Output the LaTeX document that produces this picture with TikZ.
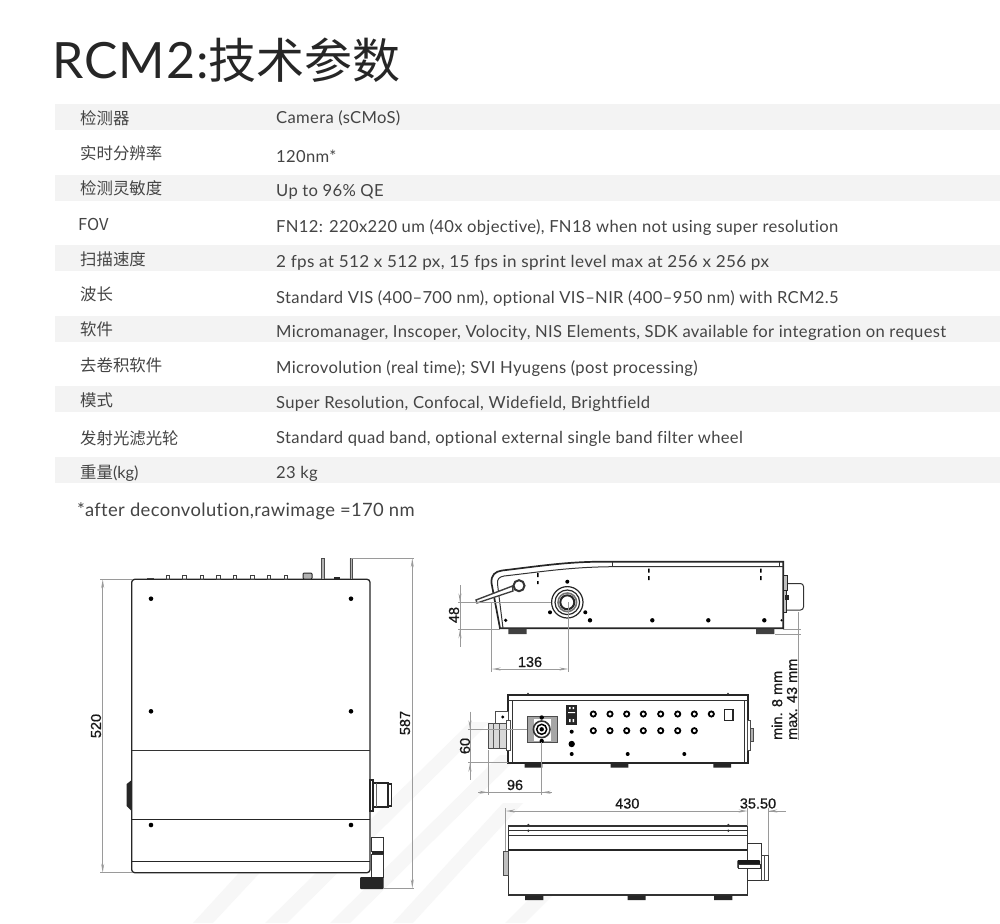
\documentclass[tikz,border=0pt]{standalone}
\usepackage{fontspec}
\usepackage{tikz}
\usetikzlibrary{arrows.meta}
\setmainfont{Lato}[LetterSpace=2,Ligatures=NoCommon]
\newfontfamily\cjk{Noto Sans CJK SC}
\newfontfamily\dimfont{Liberation Sans}[FakeBold=0.6]
\definecolor{bandgray}{HTML}{F3F3F3}
\definecolor{stripegray}{HTML}{F7F7F7}
\definecolor{inkgray}{HTML}{444444}
\definecolor{dimgray}{HTML}{9A9A9A}
\tikzset{
  rowkey/.style={anchor=west,inner sep=0pt,text=inkgray,font=\fontsize{16.4}{16}\selectfont\cjk},
  rowval/.style={anchor=west,inner sep=0pt,text=inkgray,font=\fontsize{16.6}{16}\selectfont},
  dimtext/.style={inner sep=0pt,text=black!90,font=\fontsize{14.5}{14}\selectfont\dimfont},
  dimline/.style={draw=dimgray,line width=0.7pt},
  dimtip/.style={dimline,{Stealth[open,length=9pt,width=3pt]}-},
  dimarrow/.style={dimline,{Stealth[open,length=9pt,width=3pt]}-{Stealth[open,length=9pt,width=3pt]}},
  body/.style={draw=black!85,line width=1.3pt,fill=white}
}
\begin{document}
\begin{tikzpicture}[x=1pt,y=-1pt]
  \useasboundingbox (0,0) rectangle (1000,923);
  \fill[white] (0,0) rectangle (1000,923);

  % Draw watermark stripes
  \fill[stripegray] (193,923) -- (213,923) -- (325,803) -- (303,803) -- cycle;
  \fill[stripegray] (265,923) -- (287,923) -- (490,722) -- (470,722) -- cycle;
  \fill[stripegray] (330,923) -- (350,923) -- (520,755) -- (500,755) -- cycle;
  \fill[stripegray] (393,923) -- (413,923) -- (523,803) -- (503,803) -- cycle;
  \fill[stripegray] (505,923) -- (525,923) -- (600,848) -- (580,848) -- cycle;

  % Draw title
  \node[anchor=west,inner sep=0pt,text=black!85,font=\fontsize{50}{50}\selectfont] (title) at (52,60) {RCM2:{\fontsize{48}{48}\selectfont\cjk 技术参数}};

  % Draw table bands
  \fill[bandgray] (55,104) rectangle (1000,130);
  \fill[bandgray] (55,175) rectangle (1000,201);
  \fill[bandgray] (55,245) rectangle (1000,271);
  \fill[bandgray] (55,316) rectangle (1000,342);
  \fill[bandgray] (55,386) rectangle (1000,412);
  \fill[bandgray] (55,457) rectangle (1000,483);

  \node[rowkey] (keyDetector) at (80,118) {检测器};
  \node[rowval] (valDetector) at (276,118.5) {Camera (sCMoS)};
  \node[rowkey] (keyResolution) at (80,153) {实时分辨率};
  \node[rowval] (valResolution) at (276,156) {120nm*};
  \node[rowkey] (keySensitivity) at (80,188) {检测灵敏度};
  \node[rowval] (valSensitivity) at (276,192) {Up to 96\% QE};
  \node[rowkey] (keyFov) at (78,224) {FOV};
  \node[rowval] (valFov) at (276,228) {FN12: 220x220 um (40x objective), FN18 when not using super resolution};
  \node[rowkey] (keySpeed) at (80,259) {扫描速度};
  \node[rowval,xscale=1.03,transform shape] (valSpeed) at (276,263) {2 fps at 512 x 512 px, 15 fps in sprint level max at 256 x 256 px};
  \node[rowkey] (keyWave) at (80,294) {波长};
  \node[rowval] (valWave) at (276,298) {Standard VIS (400–700 nm), optional VIS–NIR (400–950 nm) with RCM2.5};
  \node[rowkey] (keySoft) at (80,329) {软件};
  \node[rowval] (valSoft) at (276,333) {Micromanager, Inscoper, Volocity, NIS Elements, SDK available for integration on request};
  \node[rowkey] (keyDeconv) at (80,365) {去卷积软件};
  \node[rowval] (valDeconv) at (276,369) {Microvolution (real time); SVI Hyugens (post processing)};
  \node[rowkey] (keyMode) at (80,400) {模式};
  \node[rowval] (valMode) at (276,404) {Super Resolution, Confocal, Widefield, Brightfield};
  \node[rowkey] (keyFilter) at (80,438) {发射光滤光轮};
  \node[rowval] (valFilter) at (276,439) {Standard quad band, optional external single band filter wheel};
  \node[rowkey] (keyWeight) at (80,473) {重量{\fontspec{Lato}(kg)}};
  \node[rowval] (valWeight) at (276,474) {23 kg};
  \node[rowval,font=\fontsize{18.4}{18}\selectfont] (note) at (77,511.5) {*after deconvolution,rawimage =170 nm};

  % Draw front view
  \draw[body,rounded corners=3pt] (131.7,872.7) -- (131.7,579.3) -- (370,579.3) -- (370,872.7) -- cycle;
  \draw[black!80,line width=1.1pt] (131.7,750.7) -- (370,750.7);
  \draw[black!85,line width=1.3pt] (131.7,819.3) -- (370,819.3);
  \draw[black!85,line width=1.5pt] (131.7,861.7) -- (370,861.7);
  \fill[black] (151,598.7) circle (2.3) (351,598.7) circle (2.3) (151,711.3) circle (2.3) (351,711.3) circle (2.3) (151,825) circle (2.3) (351,825) circle (2.3);
  \draw[black!75,line width=1pt] (166,579) rectangle (169.5,575.3) (182.6,579) rectangle (186,575.3) (200,579) rectangle (203.5,575.3) (216.5,579) rectangle (220,575.3) (233.2,579) rectangle (236.7,575.3) (250.5,579) rectangle (254,575.3) (267.2,579) rectangle (270.7,575.3) (284,579) rectangle (287.5,575.3);
  \fill[black!75] (147,577.5) rectangle (154,579);
  \draw[black!85,fill=black!30,line width=1pt,rounded corners=1pt] (303,579) rectangle (312,573);
  \fill[black!85] (334,579) rectangle (339.5,576.5);
  \draw[black!70,fill=black!30,line width=0.6pt] (321,578.5) -- (321,558.5) -- (323.8,558.5) -- (323.8,578.5) (349.8,578.5) -- (349.8,558.5) -- (352.6,558.5) -- (352.6,578.5);
  \fill[black!85] (126.7,784) -- (131.7,780) -- (131.7,811) -- (126.7,806) -- cycle;
  \draw[black!85,line width=1.1pt] (370,780) rectangle (373,811) (373,783) rectangle (388,807) (388,784) rectangle (391.5,806);
  \draw[black!60,line width=0.6pt] (376,783) -- (376,807);
  \draw[black!80,line width=0.9pt,fill=white] (371.5,837.5) rectangle (383.5,851);
  \fill[black!85] (371.5,851) rectangle (383.5,854);
  \draw[black!80,line width=0.9pt,fill=white] (371.5,854) rectangle (383.5,877);
  \fill[black!85,rounded corners=1pt] (360,877) rectangle (383.5,889);

  % Draw front view dimensions
  \draw[dimline] (100,579.3) -- (131.7,579.3);
  \draw[dimline] (100,872.7) -- (131.7,872.7);
  \draw[dimarrow] (102.7,579.3) -- (102.7,872.7);
  \node[dimtext,rotate=90] (dimFrontH) at (96,726) {520};
  \draw[dimline] (351,558.3) -- (414,558.3);
  \draw[dimline] (383,888.3) -- (414,888.3);
  \draw[dimarrow] (412.3,558.3) -- (412.3,888.3);
  \node[dimtext,rotate=90] (dimFrontT) at (405,723) {587};

  % Draw side view
  \draw[body,line width=1.7pt] (500,628.3) -- (491.5,583) .. controls (491,575) and (495,571.5) .. (502,570.5) .. controls (540,566) and (565,562) .. (600,561.7) -- (783.3,561.7) -- (783.3,628.3) -- cycle;
  \draw[black!80,line width=1pt] (503,628.3) -- (497.5,584) .. controls (497,579) and (499,577) .. (504,576) .. controls (540,572) and (570,567) .. (612.7,566.7) -- (783.3,566.7);
  \draw[black!80,line width=1pt] (612.7,561.7) -- (612.7,566.7) (779,561.7) -- (779,566.7);
  \draw[black!75,line width=1.4pt,fill=white] (476,600) -- (477,603) -- (513,591) -- (512.5,586) -- cycle;
  \draw[black!80,line width=2pt,fill=white] (519,585.7) circle (5.5);
  \draw[black!85,line width=1.2pt] (567.3,602.3) circle (15.7) (567.3,602.3) circle (12.3);
  \draw[black!85,line width=2pt] (567.3,602.3) circle (7);
  \draw[black!55,line width=1.6pt] (567.3,602.3) circle (9.3);
  \fill[black] (567.3,581.7) circle (2) (550,612.3) circle (2) (585.3,612.3) circle (2) (590,620.3) circle (2.2) (652.3,620.3) circle (2.2) (708.3,620.3) circle (2.2) (764.3,620.3) circle (2.2) (505.7,620.3) circle (1.8) (781.5,620.3) circle (1.2);
  \fill[black] (537,573) rectangle (538.5,577) (537,581) rectangle (538.5,584) (648,568.5) rectangle (649.5,572.5) (648,576) rectangle (649.5,580) (760,568.5) rectangle (761.5,572.5) (760,576) rectangle (761.5,580);
  \fill[black!75] (508.3,628.5) rectangle (526.7,634) (756,628.5) rectangle (774.3,634);
  \draw[black!80,line width=1pt,rounded corners=3pt] (785,583.5) -- (803.5,583.5) -- (803.5,610) -- (785,610);
  \draw[black!85,fill=black!25,line width=0.9pt] (783.3,575) rectangle (787.5,590) (783.3,590) rectangle (786,612);
  \fill[black!85] (785,595) rectangle (788.5,600);

  % Draw side view dimensions
  \draw[dimline] (458,602.3) -- (551,602.3);
  \draw[dimline] (458,629.3) -- (500,629.3);
  \draw[dimline] (460,585) -- (460,647);
  \draw[dimtip] (460,602.3) -- (460,590);
  \draw[dimtip] (460,629.3) -- (460,642);
  \node[dimtext,rotate=90] (dimSideH) at (454,615) {48};
  \draw[dimline] (491.7,603) -- (491.7,672);
  \draw[dimline] (568.3,602.3) -- (568.3,672);
  \draw[dimarrow] (491.7,669) -- (568.3,669);
  \node[dimtext] (dimSideW) at (530,662) {136};
  \draw[dimline] (783.3,629.3) -- (801,629.3);
  \draw[dimline] (775,634.3) -- (801,634.3);
  \draw[dimline] (798,612) -- (798,740);

  % Draw clearance labels
  \node[dimtext,rotate=90,anchor=west] (dimMin) at (777,740) {min. 8 mm};
  \node[dimtext,rotate=90,anchor=west] (dimMax) at (792,740) {max. 43 mm};

  % Draw back view
  \draw[body,line width=1.9pt] (508.3,695) rectangle (747.7,762.7);
  \draw[black!80,line width=1pt] (508.3,700.7) -- (747.7,700.7) (512.3,700.7) -- (512.3,762) (744,700.7) -- (744,762);
  \fill[black!75] (528,693.6) circle (1) (728,693.6) circle (1);
  \draw[black,line width=1.8pt,fill=white] (593.3,714) circle (2.6) (610,714) circle (2.6) (626.7,714) circle (2.6) (643.3,714) circle (2.6) (660.7,714) circle (2.6) (677.7,714) circle (2.6) (694.3,714) circle (2.6) (711.3,714) circle (2.6);
  \draw[black,line width=1.8pt,fill=white] (593.3,730.7) circle (2.6) (610,730.7) circle (2.6) (626.7,730.7) circle (2.6) (643.3,730.7) circle (2.6) (660.7,730.7) circle (2.6) (677.7,730.7) circle (2.6) (694.3,730.7) circle (2.6);
  \draw[black!85,line width=1.6pt,fill=white] (724.5,709.5) rectangle (733,720.5);
  \draw[black!70,fill=black!35,line width=0.8pt] (527.3,716.7) rectangle (557.3,742.3);
  \fill[white] (534,718.5) rectangle (551,740.5);
  \draw[black!80,line width=1.6pt,fill=white] (541.7,729.3) circle (8.3);
  \draw[black,line width=1.5pt,fill=white] (541.7,729.3) circle (5);
  \fill[black] (541.7,729.3) circle (2.2) (541.7,717.5) circle (2.2) (541.7,741) circle (2.2);
  \fill[black!85] (566,705) rectangle (577.3,725);
  \fill[white] (569,707) rectangle (570.5,709) (572.5,707) rectangle (574,709) (568,712) rectangle (575,713) (569,719) rectangle (570.5,722) (572.5,719) rectangle (574,722);
  \fill[black] (571.7,731.7) circle (2) (571.7,744) circle (3.2) (571.7,754) circle (2) (627.7,754) circle (2) (684.3,754) circle (2);
  \fill[black!85] (524.7,763) rectangle (542.3,767.7) (610.7,763) rectangle (628.3,767.7) (713.3,763) rectangle (731,767.7);
  \draw[black!70,fill=black!15,line width=0.7pt] (488.3,723.3) rectangle (508,748.3);
  \draw[black!65,line width=0.6pt] (493,723.3) -- (493,748.3) (499,723.3) -- (499,748.3);
  \draw[black!70,fill=white,line width=0.8pt] (495.7,711.7) -- (508.3,711.7) -- (508.3,723.3) -- (495.7,723.3) -- cycle;
  \fill[black] (502.7,717) circle (1.6);
  \draw[black!70,fill=white,line width=0.8pt] (506,720) rectangle (510,750.7);
  \draw[black!70,fill=white,line width=0.8pt] (747.7,720) rectangle (750,750.7);
  \draw[black!70,fill=black!30,line width=0.7pt] (750,728.3) rectangle (753.3,741.7);

  % Draw back view dimensions
  \draw[dimline] (468,729.3) -- (527,729.3);
  \draw[dimline] (468,762.7) -- (508,762.7);
  \draw[dimline] (470,711.7) -- (470,780);
  \draw[dimtip] (470,729.3) -- (470,717);
  \draw[dimtip] (470,762.7) -- (470,775);
  \node[dimtext,rotate=90] (dimBackH) at (465,746) {60};
  \draw[dimline] (488.3,750) -- (488.3,795);
  \draw[dimline] (541.7,742) -- (541.7,795);
  \draw[dimline] (478.3,792.3) -- (550,792.3);
  \draw[dimtip] (488.3,792.3) -- (478.3,792.3);
  \draw[dimtip] (541.7,792.3) -- (552,792.3);
  \node[dimtext] (dimBackW) at (515,785) {96};

  % Draw bottom view
  \draw[black!80,line width=1.2pt,fill=white] (508.3,826) rectangle (747.7,895);
  \draw[black!80,line width=1pt] (508.3,830.7) -- (747.7,830.7) (508.3,835.7) -- (747.7,835.7);
  \draw[black!85,line width=1.3pt] (508.3,850) -- (747.7,850);
  \fill[black!80] (528.3,825) circle (1.3) (528.3,830.7) circle (1.3) (728.3,825) circle (1.3) (728.3,830.7) circle (1.3);
  \fill[black!85] (525,895.3) rectangle (543.3,900) (627.7,895.3) rectangle (645.7,900) (714,895.3) rectangle (732.3,900);
  \draw[black!70,fill=black!25,line width=0.7pt] (503.3,851.7) rectangle (508.3,875);
  \draw[black!80,fill=white,line width=0.9pt] (747.7,843.3) rectangle (761,880);
  \draw[black!75,fill=white,line width=0.8pt] (761,855) rectangle (768.3,880);
  \draw[black!70,line width=0.6pt] (764,855) -- (764,880);
  \fill[black!90,rounded corners=1pt] (737.3,860) rectangle (760,868.5);
  \draw[black!80,fill=white,line width=0.9pt] (738,864.5) rectangle (760,868.5);

  % Draw bottom view dimensions
  \draw[dimline] (505.7,808) -- (505.7,851);
  \draw[dimline] (747.7,808) -- (747.7,826);
  \draw[dimline] (768.3,808) -- (768.3,855);
  \draw[dimarrow] (505.7,811) -- (747.7,811);
  \draw[dimline] (768.3,811) -- (786,811);
  \draw[dimtip] (768.3,811) -- (786,811);
  \node[dimtext] (dimBottomW) at (627.3,803.5) {430};
  \node[dimtext] (dimBottomT) at (758,803.5) {35.50};
\end{tikzpicture}
\end{document}
